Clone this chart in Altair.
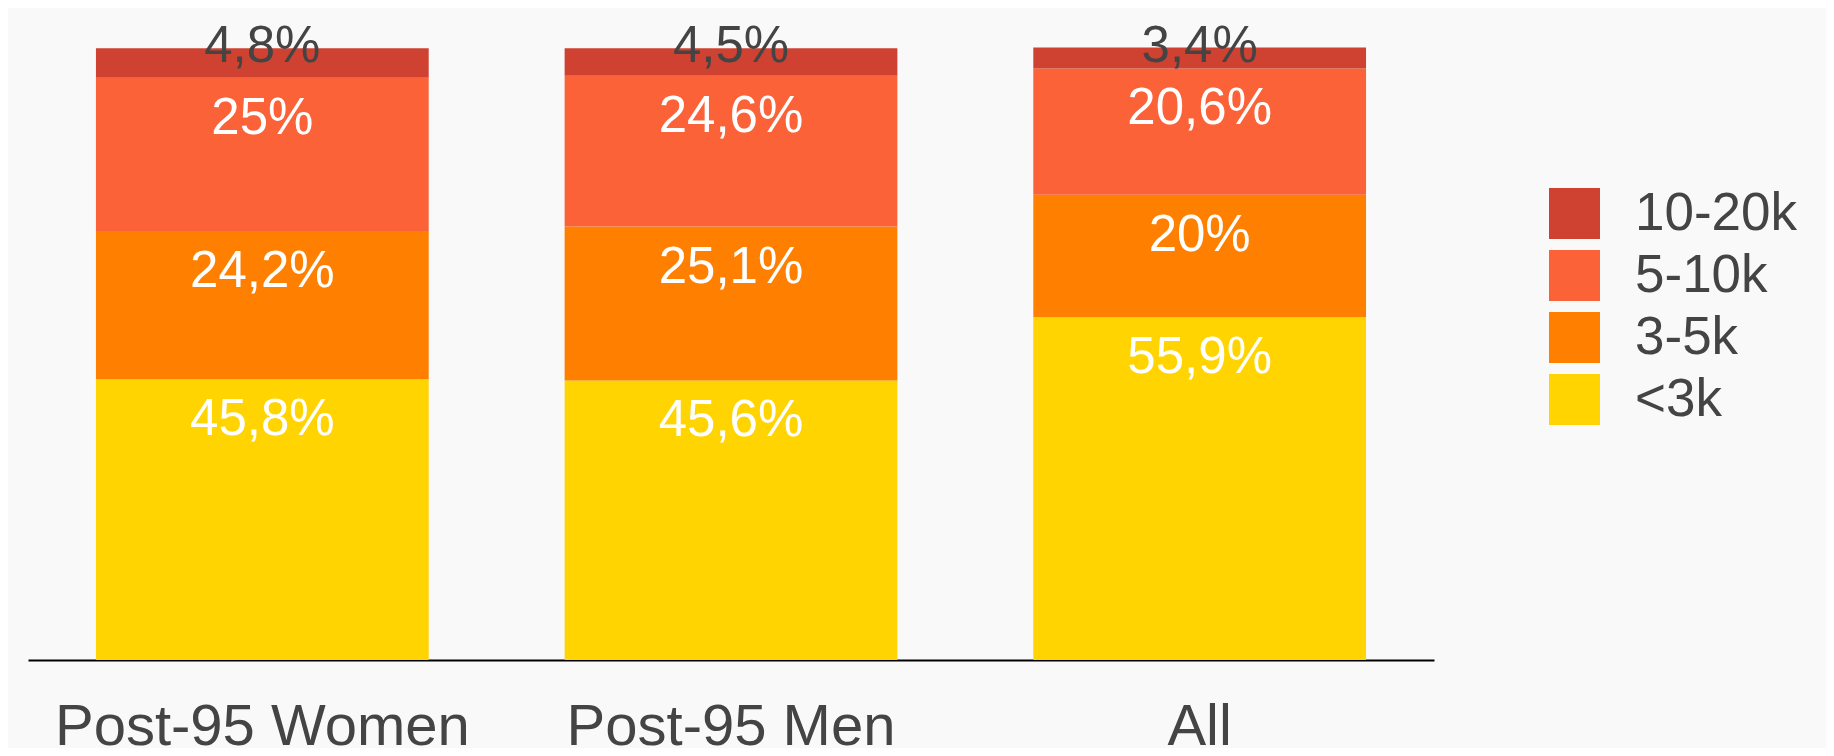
import altair as alt
import pandas as pd

groups = ["Post-95 Women", "Post-95 Men", "All"]
brackets = ["10-20k", "5-10k", "3-5k", "<3k"]
colors = ["#cf4232", "#fc6238", "#ff8000", "#ffd400"]
stack_order = {"<3k": 0, "3-5k": 1, "5-10k": 2, "10-20k": 3}

share_lt3k = [45.8, 45.6, 55.9]
share_3_5k = [24.2, 25.1, 20.0]
share_5_10k = [25.0, 24.6, 20.6]
share_10_20k = [4.8, 4.5, 3.4]

series = {"<3k": share_lt3k, "3-5k": share_3_5k, "5-10k": share_5_10k, "10-20k": share_10_20k}

rows = []
for b, vals in series.items():
    for g, v in zip(groups, vals):
        rows.append({"group": g, "bracket": b, "value": v, "ord": stack_order[b],
                     "label": (f"{v:g}".replace(".", ",")) + "%"})
df = pd.DataFrame(rows)

FONT = "Liberation Sans"

base = alt.Chart(df).transform_stack(
    stack="value", groupby=["group"], sort=[alt.SortField("ord", order="ascending")],
    as_=["y0", "y1"]
)

x = alt.X("group:N", sort=groups, title=None,
          scale=alt.Scale(paddingInner=0.29, paddingOuter=0.145),
          axis=alt.Axis(labelAngle=0, labelFontSize=58, labelColor="#444444", labelFont=FONT,
                        labelLimit=800, labelOverlap=False,
                        ticks=False, tickSize=0, labelPadding=84, labelBaseline="alphabetic",
                        domainColor="#000000", domainWidth=2, grid=False))

bars = base.mark_bar().encode(
    x=x,
    y=alt.Y("y0:Q", scale=alt.Scale(domain=[0, 100]), axis=None),
    y2="y1:Q",
    color=alt.Color("bracket:N", scale=alt.Scale(domain=brackets, range=colors),
                    legend=alt.Legend(title=None, orient="none", legendX=1520, legendY=140,
                                      symbolType="square", symbolSize=2601, symbolStrokeWidth=0,
                                      symbolOpacity=1,
                                      labelFontSize=53, labelColor="#444444", labelFont=FONT,
                                      labelOffset=34, rowPadding=8, labelLimit=400)),
)

white_labels = base.transform_filter(alt.datum.bracket != "10-20k").mark_text(
    baseline="alphabetic", dy=56, fontSize=51, color="#ffffff", font=FONT
).encode(x=alt.X("group:N", sort=groups), y=alt.Y("y1:Q"), text="label:N")

top_labels = base.transform_filter(alt.datum.bracket == "10-20k").mark_text(
    baseline="alphabetic", dy=14, fontSize=51, color="#444444", font=FONT
).encode(x=alt.X("group:N", sort=groups), y=alt.Y("y1:Q"), text="label:N")

chart = alt.layer(bars, white_labels, top_labels).properties(
    width=1406, height=613, background="#f9f9f9",
    autosize=alt.AutoSizeParams(type="none"),
    padding={"left": 20, "top": 39, "right": 392, "bottom": 88},
).configure_view(stroke=None)

chart.save("out.html", embed_options={"renderer": "svg", "actions": False})
